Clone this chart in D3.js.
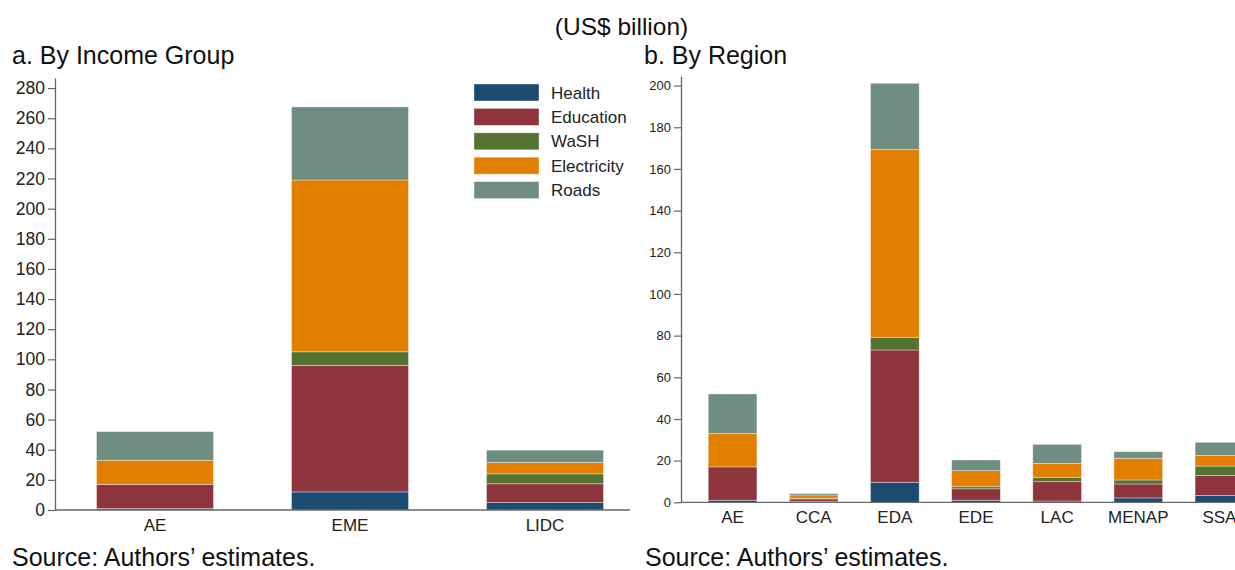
<!DOCTYPE html>
<html>
<head>
<meta charset="utf-8">
<script src="https://cdn.jsdelivr.net/npm/d3@7"></script>
<style>
  html, body { margin: 0; padding: 0; background: #fff; }
  svg { display: block; font-family: "Liberation Sans", Arial, sans-serif; }
</style>
</head>
<body>
<svg id="chart" width="1235" height="570"></svg>
<script>
// ---- Data ----
const series = ["Health", "Education", "WaSH", "Electricity", "Roads"];
const colors = ["#1d4a71", "#8e343d", "#547230", "#e27f00", "#6f8e81"];

// Panel a: by income group
const incomeGroups = ["AE", "EME", "LIDC"];
const incomeHealth      = [1.0, 12.0, 5.0];
const incomeEducation   = [16.0, 84.0, 12.4];
const incomeWaSH        = [0.0, 9.0, 6.6];
const incomeElectricity = [16.0, 114.0, 7.5];
const incomeRoads       = [19.0, 48.5, 8.2];
const incomeTicks = [0, 20, 40, 60, 80, 100, 120, 140, 160, 180, 200, 220, 240, 260, 280];

// Panel b: by region
const regions = ["AE", "CCA", "EDA", "EDE", "LAC", "MENAP", "SSA"];
const regionHealth      = [1.0, 0.4, 9.6, 1.0, 0.6, 2.1, 3.3];
const regionEducation   = [16.0, 1.2, 63.5, 5.5, 9.3, 6.7, 9.6];
const regionWaSH        = [0.0, 0.4, 6.1, 1.0, 2.1, 1.9, 4.5];
const regionElectricity = [16.0, 1.5, 90.2, 7.7, 6.7, 10.4, 5.1];
const regionRoads       = [19.0, 0.7, 31.7, 5.1, 9.1, 3.2, 6.3];
const regionTicks = [0, 20, 40, 60, 80, 100, 120, 140, 160, 180, 200];

// ---- Build tables ----
function table(cats, arrs) {
  return cats.map((c, i) => {
    const o = { cat: c };
    series.forEach((s, j) => { o[s] = arrs[j][i]; });
    return o;
  });
}
const incomeData = table(incomeGroups, [incomeHealth, incomeEducation, incomeWaSH, incomeElectricity, incomeRoads]);
const regionData = table(regions, [regionHealth, regionEducation, regionWaSH, regionElectricity, regionRoads]);

const svg = d3.select("#chart");
const color = d3.scaleOrdinal().domain(series).range(colors);
const stack = d3.stack().keys(series);

function panel(opts) {
  const g = svg.append("g");
  const x = d3.scaleBand().domain(opts.cats).range(opts.xRange).paddingInner(0.4).paddingOuter(0.2);
  const y = d3.scaleLinear().domain([0, opts.yMax]).range([opts.y0, opts.yTop]);
  const stacked = stack(opts.data);

  g.selectAll("g.layer").data(stacked).join("g")
    .attr("class", "layer")
    .attr("fill", d => color(d.key))
    .selectAll("rect").data(d => d).join("rect")
      .attr("x", d => x(d.data.cat))
      .attr("width", x.bandwidth())
      .attr("y", d => y(d[1]))
      .attr("height", d => Math.max(0, y(d[0]) - y(d[1])))
      .attr("stroke", "rgba(255,255,255,0.45)")
      .attr("stroke-width", 0.8);

  // y axis
  const ya = g.append("g")
    .attr("transform", `translate(${opts.axisX},0)`)
    .call(d3.axisLeft(y).tickValues(opts.ticks).tickSize(7).tickSizeOuter(0).tickPadding(3));
  ya.select(".domain").attr("stroke", "#666").attr("stroke-width", 1.3);
  ya.selectAll(".tick line").attr("stroke", "#666").attr("stroke-width", 1.2);
  ya.selectAll(".tick text").attr("fill", "#222").style("font-size", opts.yFont + "px")
    .style("font-family", '"Liberation Sans", Arial, sans-serif');

  // x axis
  const xa = g.append("g")
    .attr("transform", `translate(0,${opts.y0})`)
    .call(d3.axisBottom(x).tickSize(0).tickPadding(9));
  xa.select(".domain").remove();
  xa.selectAll(".tick text").attr("fill", "#222").style("font-size", "17px")
    .style("font-family", '"Liberation Sans", Arial, sans-serif');
  g.append("line")
    .attr("x1", opts.axisX).attr("x2", opts.xLineEnd)
    .attr("y1", opts.y0).attr("y2", opts.y0)
    .attr("stroke", "#666").attr("stroke-width", 1.3);
  return g;
}

panel({ cats: incomeGroups, data: incomeData, xRange: [57.5, 642.5], y0: 510, yTop: 78,
        yMax: 286.7, ticks: incomeTicks, axisX: 55, xLineEnd: 630, yFont: 17.5 });
panel({ cats: regions, data: regionData, xRange: [692, 1260], y0: 502.3, yTop: 76,
        yMax: 204.6, ticks: regionTicks, axisX: 681, xLineEnd: 1235, yFont: 13 });

// Legend
const leg = svg.append("g").attr("transform", "translate(474,84)");
const li = leg.selectAll("g").data(series).join("g")
  .attr("transform", (d, i) => `translate(0,${i * 24.4})`);
li.append("rect").attr("width", 65).attr("height", 17).attr("fill", d => color(d))
  .attr("stroke", "rgba(255,255,255,0.45)").attr("stroke-width", 0.8);
li.append("text").attr("x", 77).attr("y", 14.5).text(d => d)
  .attr("fill", "#222").style("font-size", "17px");

// Titles & notes
svg.append("text").attr("x", 621.5).attr("y", 35).attr("text-anchor", "middle")
  .attr("fill", "#111").style("font-size", "24.5px").text("(US$ billion)");
svg.append("text").attr("x", 12).attr("y", 64).attr("fill", "#111")
  .style("font-size", "25px").text("a. By Income Group");
svg.append("text").attr("x", 644).attr("y", 64).attr("fill", "#111")
  .style("font-size", "25px").text("b. By Region");
svg.append("text").attr("x", 12).attr("y", 566).attr("fill", "#111")
  .style("font-size", "25px").text("Source: Authors\u2019 estimates.");
svg.append("text").attr("x", 645).attr("y", 566).attr("fill", "#111")
  .style("font-size", "25px").text("Source: Authors\u2019 estimates.");
</script>
</body>
</html>
